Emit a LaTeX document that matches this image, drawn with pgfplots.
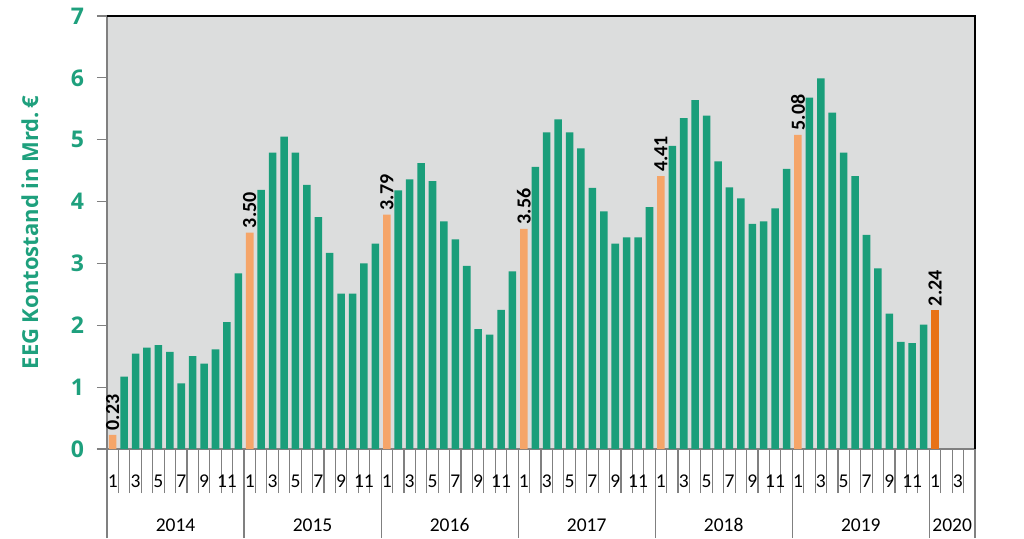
\documentclass[border=0pt]{standalone}
\usepackage{fontspec}
\setmainfont{Carlito}
\newfontfamily\opensans{Open Sans}
\usepackage{pgfplots}
\pgfplotsset{compat=1.18}
\definecolor{bargreen}{RGB}{26,158,122}
\definecolor{txtgreen}{RGB}{30,160,125}
\definecolor{lorange}{RGB}{245,165,105}
\definecolor{dorange}{RGB}{232,114,22}
\definecolor{bggray}{RGB}{220,221,221}
\begin{document}
\begin{tikzpicture}
\useasboundingbox (0,0) rectangle (512pt,269pt);
\begin{axis}[
  at={(53.5pt,44.5pt)}, anchor=south west,
  scale only axis, width=434pt, height=216.5pt,
  xmin=-0.5, xmax=75.5, ymin=0, ymax=7,
  ybar, bar width=0.66,
  clip=false,
  /pgf/number format/assume math mode=true,
  axis background/.style={fill=bggray},
  axis line style={draw=gray, line width=0.7pt},
  tick align=outside,
  major tick length=5pt,
  ytick={0,...,7}, ytick pos=left,
  y tick style={gray, line width=0.6pt},
  yticklabel style={font=\opensans\bfseries\fontsize{11.5}{11.5}\selectfont, text=txtgreen, xshift=-3pt},
  xtick pos=bottom,
  xtick={0,2,...,74},
  xticklabels={1,3,5,7,9,11,1,3,5,7,9,11,1,3,5,7,9,11,1,3,5,7,9,11,1,3,5,7,9,11,1,3,5,7,9,11,1,3},
  xticklabel style={font=\fontsize{9.75}{10}\selectfont, anchor=base, yshift=-14pt},
  major x tick style={draw=none},
  minor xtick={-0.5,0.5,...,75.5},
  minor tick length=22pt,
  minor x tick style={draw=gray, line width=0.6pt},
  extra x ticks={-0.5,11.5,23.5,35.5,47.5,59.5,71.5,75.5},
  extra x tick labels={},
  extra x tick style={major tick length=44.5pt, major x tick style={draw=gray, line width=0.6pt}},
  ylabel={EEG Kontostand in Mrd.\,€},
  every axis y label/.style={at={(rel axis cs:0,0.5)}, rotate=90, anchor=center, yshift=38.5pt,
     font=\opensans\bfseries\fontsize{11}{12}\selectfont, text=txtgreen},
  every node near coord/.append style={rotate=90, anchor=west, inner sep=2pt,
     font=\bfseries\fontsize{10}{10}\selectfont, text=black},
]
\addplot[fill=bargreen, draw=none, bar shift=0pt] coordinates {
 (1,1.17) (2,1.54) (3,1.64) (4,1.68) (5,1.57) (6,1.06) (7,1.50) (8,1.38) (9,1.61) (10,2.05) (11,2.84)
 (13,4.19) (14,4.79) (15,5.05) (16,4.79) (17,4.27) (18,3.75) (19,3.17) (20,2.51) (21,2.51) (22,3.00) (23,3.32)
 (25,4.18) (26,4.36) (27,4.62) (28,4.33) (29,3.68) (30,3.39) (31,2.96) (32,1.94) (33,1.85) (34,2.25) (35,2.87)
 (37,4.56) (38,5.12) (39,5.33) (40,5.12) (41,4.86) (42,4.22) (43,3.84) (44,3.32) (45,3.42) (46,3.42) (47,3.91)
 (49,4.90) (50,5.35) (51,5.64) (52,5.39) (53,4.65) (54,4.23) (55,4.05) (56,3.64) (57,3.68) (58,3.89) (59,4.53)
 (61,5.68) (62,5.99) (63,5.44) (64,4.79) (65,4.41) (66,3.46) (67,2.92) (68,2.19) (69,1.73) (70,1.71) (71,2.01)
};
\addplot[fill=lorange, draw=none, bar shift=0pt,
  nodes near coords={\pgfmathprintnumber[fixed,fixed zerofill,precision=2]{\pgfplotspointmeta}}] coordinates {
 (0,0.23) (12,3.50) (24,3.79) (36,3.56) (48,4.41) (60,5.08)
};
\addplot[fill=dorange, draw=none, bar shift=0pt,
  nodes near coords={\pgfmathprintnumber[fixed,fixed zerofill,precision=2]{\pgfplotspointmeta}}] coordinates {
 (72,2.24)
};
\draw[black, line width=0.8pt] (rel axis cs:0,1) -- (rel axis cs:1,1) -- (rel axis cs:1,0);
\node[anchor=base, font=\fontsize{9.75}{10}\selectfont, yshift=-41.3pt] at (axis cs:5.5,0) {2014};
\node[anchor=base, font=\fontsize{9.75}{10}\selectfont, yshift=-41.3pt] at (axis cs:17.5,0) {2015};
\node[anchor=base, font=\fontsize{9.75}{10}\selectfont, yshift=-41.3pt] at (axis cs:29.5,0) {2016};
\node[anchor=base, font=\fontsize{9.75}{10}\selectfont, yshift=-41.3pt] at (axis cs:41.5,0) {2017};
\node[anchor=base, font=\fontsize{9.75}{10}\selectfont, yshift=-41.3pt] at (axis cs:53.5,0) {2018};
\node[anchor=base, font=\fontsize{9.75}{10}\selectfont, yshift=-41.3pt] at (axis cs:65.5,0) {2019};
\node[anchor=base, font=\fontsize{9.75}{10}\selectfont, yshift=-41.3pt] at (axis cs:73.5,0) {2020};
\end{axis}
\end{tikzpicture}
\end{document}
